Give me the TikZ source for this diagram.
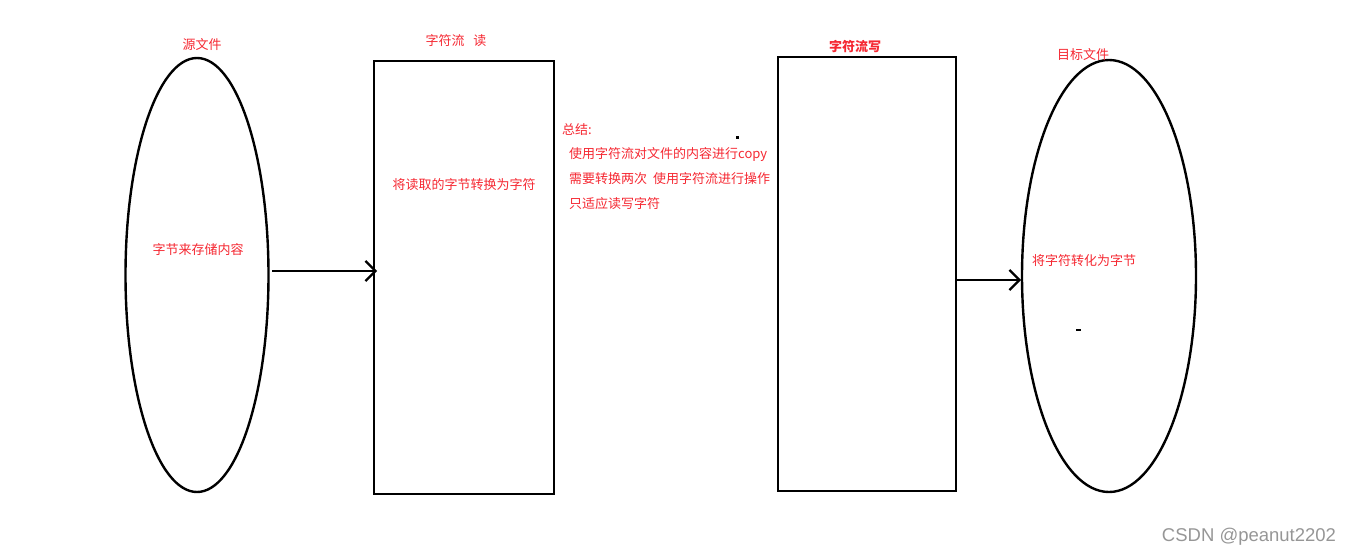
\documentclass[tikz,border=0pt]{standalone}
\usepackage{fontspec}
\newfontfamily\cjk{Noto Sans CJK SC}
\setsansfont{Liberation Sans}
\usetikzlibrary{arrows.meta,shapes.geometric}
\definecolor{lbl}{RGB}{245,40,50}
\definecolor{wm}{RGB}{150,150,150}
\tikzset{
  shp/.style={draw=black,line width=2.4pt},
  lab/.style={text=lbl,font=\cjk\fontsize{13}{15}\selectfont,inner sep=0pt},
  conn/.style={line width=2.4pt,-{Straight Barb[length=10pt,width=20pt,line width=2.2pt]}},
}
\begin{document}
\begin{tikzpicture}[x=1pt,y=-1pt]
\useasboundingbox (0,0) rectangle (1354,557);
% source file
\node[shp,ellipse,minimum width=143pt,minimum height=434pt,inner sep=0pt] (src) at (197,275) {};
\node[lab] (srct) at (202,45) {源文件};
\node[lab] (srcin) at (198,250) {字节来存储内容};
% reader
\node[shp,rectangle,minimum width=180pt,minimum height=433pt,inner sep=0pt] (rd) at (464,277.5) {};
\node[lab] (rdt) at (456,41) {字符流\ \ \ 读};
\node[lab] (rdin) at (464,185) {将读取的字节转换为字符};
% summary
\node[lab,anchor=west] (sum0) at (562,130) {总结:};
\node[lab,anchor=west] (sum1) at (569,155) {使用字符流对文件的内容进行copy};
\node[lab,anchor=west] (sum2) at (569,179) {需要转换两次\ \ 使用字符流进行操作};
\node[lab,anchor=west] (sum3) at (569,204) {只适应读写字符};
\node[fill=black,minimum size=3pt,inner sep=0pt] (dot1) at (737,137) {};
% writer
\node[shp,rectangle,minimum width=178pt,minimum height=434pt,inner sep=0pt] (wr) at (867,274) {};
\node[lab,font=\cjk\bfseries\fontsize{13}{15}\selectfont] (wrt) at (855,47) {字符流写};
% target file
\node[shp,ellipse,minimum width=174pt,minimum height=432pt,inner sep=0pt] (dst) at (1109,276) {};
\node[lab] (dstt) at (1083,55) {目标文件};
\node[lab] (dstin) at (1084,261) {将字符转化为字节};
\node[fill=black,minimum width=5pt,minimum height=2.5pt,inner sep=0pt] (dash1) at (1078,330) {};
% connectors
\coordinate (a1s) at (272,271);
\coordinate (a1e) at (377,271);
\draw[conn] (a1s) -- (a1e);
\coordinate (a2s) at (956,280);
\coordinate (a2e) at (1021,280);
\draw[conn] (a2s) -- (a2e);
% watermark
\node[text=wm,font=\sffamily\fontsize{18.5}{20}\selectfont,inner sep=0pt] (wmk) at (1249,537) {CSDN @peanut2202};
\end{tikzpicture}
\end{document}
